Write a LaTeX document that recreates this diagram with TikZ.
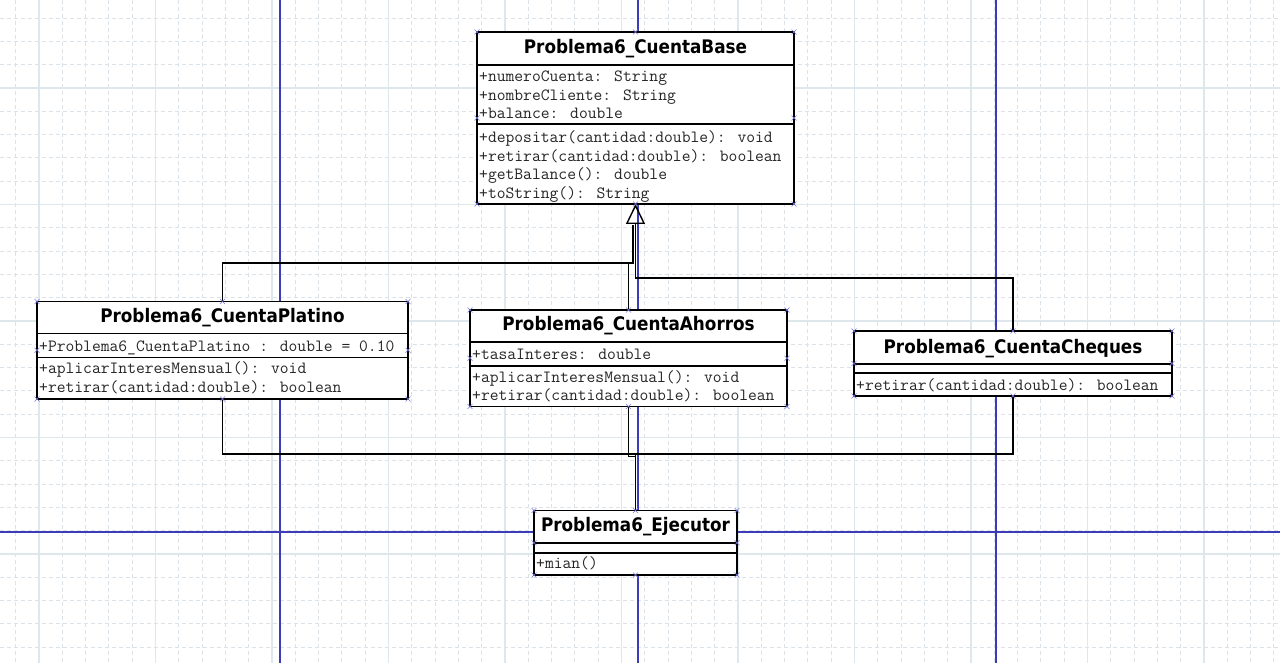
\documentclass[tikz,border=0pt]{standalone}
\usepackage{fontspec}
\usetikzlibrary{arrows.meta}
\newfontfamily\titlefont{DejaVu Sans}[FakeStretch=0.9]
\definecolor{gridmaj}{RGB}{222,231,236}
\definecolor{gridmin}{RGB}{219,227,232}
\definecolor{guide}{RGB}{60,60,185}
\definecolor{handle}{RGB}{120,120,220}

\begin{document}
\begin{tikzpicture}[x=1pt,y=-1pt,
  classbox/.style={draw, line width=1.8pt, fill=white, inner sep=0pt, outer sep=0pt, anchor=north west},
  classname/.style={font=\titlefont\bfseries\fontsize{18.7}{20}\selectfont, inner sep=0pt},
  member/.style={font=\ttfamily\fontsize{17.1}{19}\selectfont, text=black!85, anchor=west, inner sep=0pt, text height=11pt, text depth=3.5pt},
  compart/.style={line width=1.8pt},
  conn/.style={line width=1.8pt},
  gen/.style={-{Triangle[open, length=20pt, width=19pt, line width=1.4pt]}},
  hdl/.style={draw=handle, line width=0.6pt}]

\useasboundingbox (0,0) rectangle (1280,663);
% background grid
\fill[white] (0,0) rectangle (1280,663);
\foreach \x in {0,...,54}
  \draw[gridmin, dash pattern=on 4pt off 3pt, line width=0.9pt] ({15.7+23.3*\x},0) -- ({15.7+23.3*\x},663);
\foreach \y in {0,...,27}
  \draw[gridmin, dash pattern=on 4pt off 3pt, line width=0.9pt] (0,{18.1+23.3*\y}) -- (1280,{18.1+23.3*\y});
\foreach \x in {0,...,10}
  \draw[gridmaj, line width=1.2pt] ({39+116.5*\x},0) -- ({39+116.5*\x},663);
\foreach \y in {0,...,4}
  \draw[gridmaj, line width=1.2pt] (0,{88+116.5*\y}) -- (1280,{88+116.5*\y});

% guides
\draw[guide, line width=1.3pt] (280,0) -- (280,663);
\draw[guide, line width=1.3pt] (638,0) -- (638,663);
\draw[guide, line width=1.3pt] (996,0) -- (996,663);
\draw[guide, line width=1.3pt] (0,532) -- (1280,532);

% Problema6_CuentaBase
\node[classbox, minimum width=317pt, minimum height=172pt] (base) at (477,32) {};
\draw[compart] (477,65) -- (794,65);
\draw[compart] (477,124) -- (794,124);
\node[classname] (baseN) at (635.5,48.5) {Problema6\_CuentaBase};
\node[member] (baseA1) at (479,77.7) {+numeroCuenta: String};
\node[member] (baseA2) at (479,96.7) {+nombreCliente: String};
\node[member] (baseA3) at (479,115) {+balance: double};
\node[member] (baseM1) at (479,139) {+depositar(cantidad:double): void};
\node[member] (baseM2) at (479,157.5) {+retirar(cantidad:double): boolean};
\node[member] (baseM3) at (479,176) {+getBalance(): double};
\node[member] (baseM4) at (479,195) {+toString(): String};

% Problema6_CuentaPlatino
\node[classbox, minimum width=371pt, minimum height=97.5pt] (plat) at (37,301.5) {};
\draw[compart] (37,333.5) -- (408,333.5);
\draw[compart] (37,357.5) -- (408,357.5);
\node[classname] (platN) at (222.5,318) {Problema6\_CuentaPlatino};
\node[member] (platA1) at (39,347.3) {+Problema6\_CuentaPlatino : double = 0.10};
\node[member] (platM1) at (39,370) {+aplicarInteresMensual(): void};
\node[member] (platM2) at (39,388.3) {+retirar(cantidad:double): boolean};

% Problema6_CuentaAhorros
\node[classbox, minimum width=317pt, minimum height=96.5pt] (ahorros) at (470,310) {};
\draw[compart] (470,342.3) -- (787,342.3);
\draw[compart] (470,366) -- (787,366);
\node[classname] (ahorrosN) at (628.5,326) {Problema6\_CuentaAhorros};
\node[member] (ahorrosA1) at (472,356) {+tasaInteres: double};
\node[member] (ahorrosM1) at (472,378.3) {+aplicarInteresMensual(): void};
\node[member] (ahorrosM2) at (472,396.7) {+retirar(cantidad:double): boolean};

% Problema6_CuentaCheques
\node[classbox, minimum width=318pt, minimum height=65pt] (cheques) at (854,331) {};
\draw[compart] (854,364.3) -- (1172,364.3);
\draw[compart] (854,373.3) -- (1172,373.3);
\node[classname] (chequesN) at (1013,348.3) {Problema6\_CuentaCheques};
\node[member] (chequesM1) at (856,386.7) {+retirar(cantidad:double): boolean};

% Problema6_Ejecutor
\node[classbox, minimum width=203pt, minimum height=64.5pt] (ejec) at (534,510.5) {};
\draw[compart] (534,543.3) -- (737,543.3);
\draw[compart] (534,552.7) -- (737,552.7);
\node[classname] (ejecN) at (635.5,526.7) {Problema6\_Ejecutor};
\node[member] (ejecM1) at (536,565) {+mian()};

% herencia
\coordinate (jl) at (633,263);
\coordinate (jlt) at (633,225);
\coordinate (jr) at (635.5,278);
\draw[conn, gen] (cheques.north) |- (jr) -- (base.south);
\draw[conn] (plat.north) |- (jl) -- (jlt);
\draw[conn] (ahorros.north) |- (jl);

% uso desde el ejecutor
\coordinate (jb) at (635.5,454);
\coordinate (jb2) at (635.5,456.5);
\draw[conn] (plat.south) |- (jb) -- (ejec.north);
\draw[conn] (cheques.south) |- (jb);
\draw[conn] (ahorros.south) |- (jb2);

% handles
\foreach \b in {base,plat,ahorros,cheques,ejec}
  \foreach \a in {north west,north,north east,east,south east,south,south west,west}
    \draw[hdl] (\b.\a) +(-2.5,-2.5) -- +(2.5,2.5) +(-2.5,2.5) -- +(2.5,-2.5);

\end{tikzpicture}
\end{document}
